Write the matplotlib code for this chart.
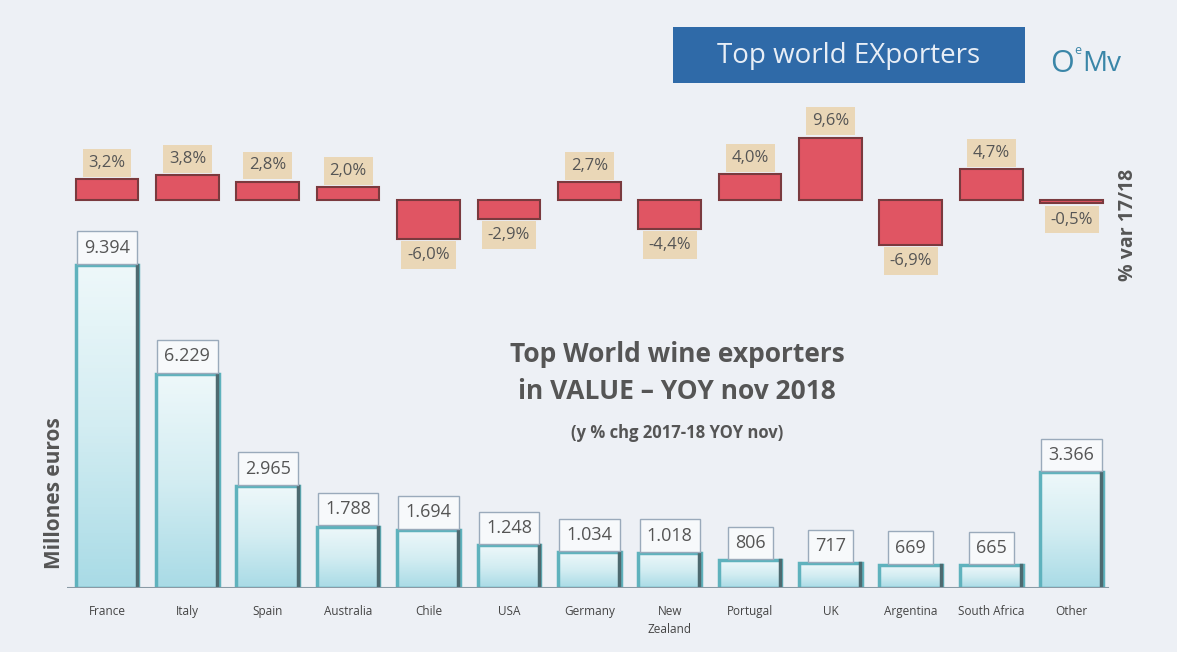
import numpy as np
import matplotlib.pyplot as plt
from matplotlib.patches import Rectangle

# datos
paises = ['France', 'Italy', 'Spain', 'Australia', 'Chile', 'USA', 'Germany',
          'New\nZealand', 'Portugal', 'UK', 'Argentina', 'South Africa', 'Other']
valor = [9394, 6229, 2965, 1788, 1694, 1248, 1034, 1018, 806, 717, 669, 665, 3366]
valor_txt = ['9.394', '6.229', '2.965', '1.788', '1.694', '1.248', '1.034',
             '1.018', '806', '717', '669', '665', '3.366']
var = [3.2, 3.8, 2.8, 2.0, -6.0, -2.9, 2.7, -4.4, 4.0, 9.6, -6.9, 4.7, -0.5]

W, H = 1177, 652
fondo = '#edf0f5'
gris = '#555555'
plt.rcParams['font.family'] = ['Open Sans', 'DejaVu Sans']

fig = plt.figure(figsize=(W / 100, H / 100), dpi=100, facecolor=fondo)

x = np.arange(len(paises))
izq, ancho = 66.8 / W, 1045 / W

# --- barras de valor ---
ax = fig.add_axes([izq, 1 - 588 / H, ancho, 438 / H])
ax.set_xlim(-0.5, len(paises) - 0.5)
ax.set_ylim(0, 438 / (323 / 9394))
ax.set_facecolor('none')
ax.axis('off')

grad = np.linspace(0, 1, 100).reshape(-1, 1)
cmap = plt.matplotlib.colors.LinearSegmentedColormap.from_list(
    'agua', ['#a9dbe6', '#d3edf2', '#eef8fa'])
bw = 0.78
for xi, v, t, p in zip(x, valor, valor_txt, paises):
    ax.imshow(grad, aspect='auto', cmap=cmap, origin='lower',
              extent=(xi - bw / 2, xi + bw / 2, 0, v), zorder=1)
    ax.bar(xi, v, width=bw, facecolor='none', edgecolor='#5fb2bd',
           linewidth=2.5, zorder=2)
    ax.plot([xi + bw / 2 - 0.02] * 2, [0, v], color='#4d6a70', lw=2.5, zorder=3)
    ax.annotate(t, (xi, v), xytext=(0, 6), textcoords='offset points',
                ha='center', va='bottom', fontsize=13, color=gris,
                bbox=dict(boxstyle='square,pad=0.4', fc='#f7f9fb',
                          ec='#9aaabb', lw=1))
    ax.text(xi, -500, p, ha='center', va='top',
            fontsize=8.5, color='#444444', linespacing=1.5)
ax.plot([-0.5, len(paises) - 0.55], [0, 0], color='#8a9aa5', lw=1.5, zorder=4)

# --- barras de variacion ---
ax2 = fig.add_axes([izq, 1 - 280 / H, ancho, 160 / H])
ax2.set_xlim(-0.5, len(paises) - 0.5)
ax2.set_ylim(-80 / 6.5, 80 / 6.5)
ax2.set_facecolor('none')
ax2.axis('off')
ax2.bar(x, var, width=bw, color='#e05563', edgecolor='#7a3a3e', linewidth=1.5)
for xi, v in zip(x, var):
    off = 6 if v >= 0 else -6
    ax2.annotate(f'{v:.1f}%'.replace('.', ','), (xi, v), xytext=(0, off),
                 textcoords='offset points', ha='center',
                 va='bottom' if v >= 0 else 'top', fontsize=12, color=gris,
                 bbox=dict(boxstyle='square,pad=0.35', fc='#ead7b7', ec='none'))

# textos
fig.text(677 / W, 1 - 373 / H, 'Top World wine exporters\nin VALUE – YOY nov 2018',
         ha='center', va='center', fontsize=19, fontweight='bold', color=gris,
         linespacing=1.45)
fig.text(677 / W, 1 - 433 / H, '(y % chg 2017-18 YOY nov)', ha='center',
         va='center', fontsize=12, fontweight='bold', color=gris)
fig.text(55 / W, 1 - 493 / H, 'Millones euros', rotation=90, ha='center',
         va='center', fontsize=15, fontweight='bold', color=gris)
fig.text(1128 / W, 1 - 225 / H, '% var 17/18', rotation=90, ha='center',
         va='center', fontsize=14, fontweight='bold', color=gris)

fig.patches.append(Rectangle((673 / W, 1 - 83 / H), 352 / W, 56 / H,
                             transform=fig.transFigure, fc='#2f6aa8', ec='none'))
fig.text(849 / W, 1 - 56 / H, 'Top world EXporters', ha='center', va='center',
         fontsize=20, color='#e8eef6')
fig.text(1074 / W, 1 - 64 / H, 'O', ha='right', va='center', fontsize=22,
         color='#3a86a8')
fig.text(1074 / W, 1 - 50 / H, 'e', ha='left', va='center', fontsize=9,
         color='#3a86a8')
fig.text(1082 / W, 1 - 64 / H, 'Mv', ha='left', va='center', fontsize=20,
         color='#3a86a8')

fig.savefig('out.png', dpi=100, facecolor=fondo)
